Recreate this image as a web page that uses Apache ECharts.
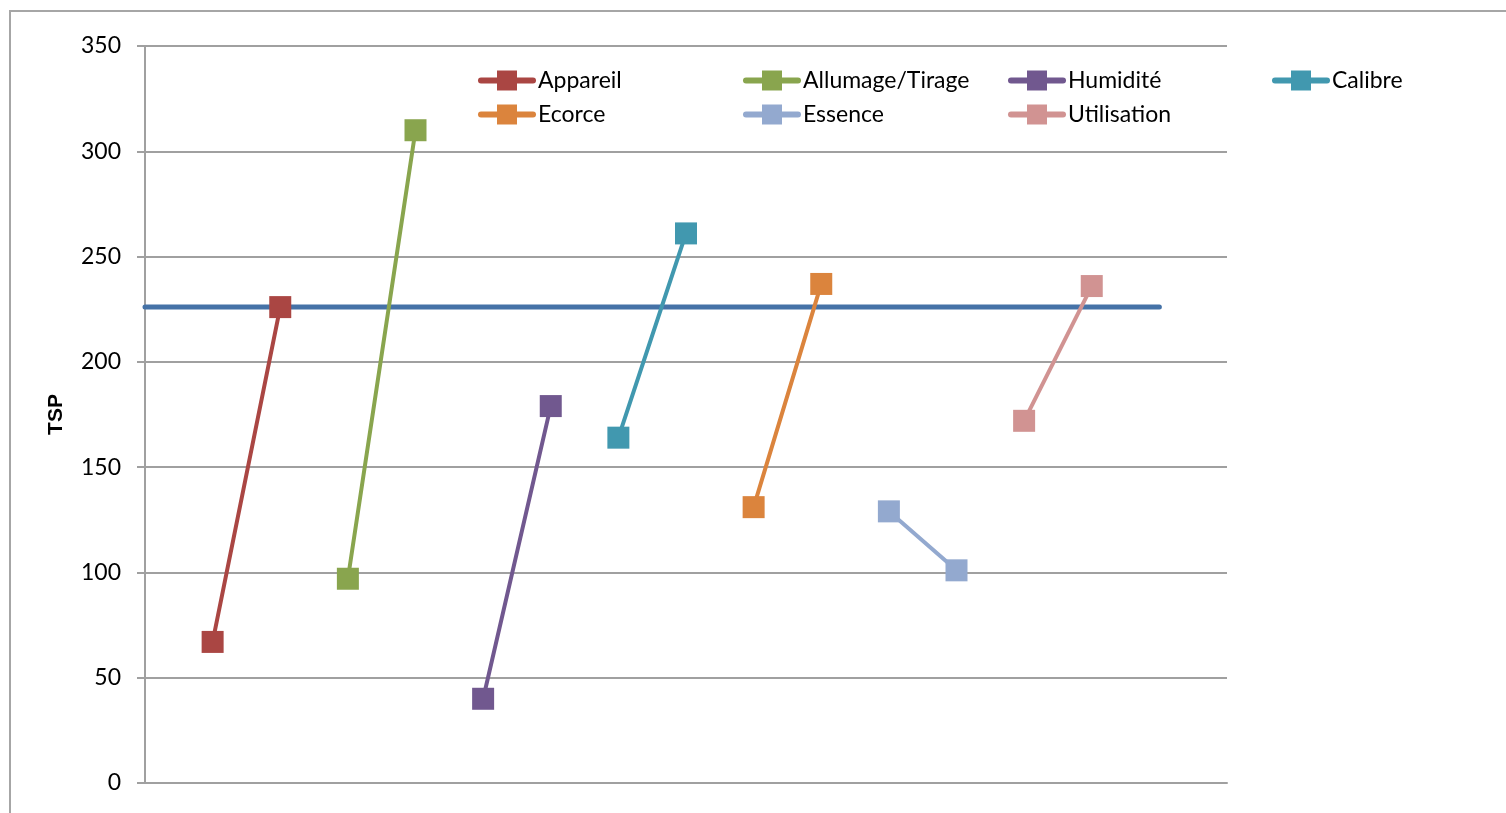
<!DOCTYPE html>
<html>
<head>
<meta charset="utf-8">
<script src="https://cdn.jsdelivr.net/npm/echarts@6/dist/echarts.min.js"></script>
<style>
html,body{margin:0;padding:0;background:#fff;}
#chart{width:1506px;height:813px;}
</style>
</head>
<body>
<div id="chart"></div>
<script>
// Category slots (no labels shown on the x axis)
const categories = ['', '', '', '', '', '', '', '', '', '', '', '', '', '', '', '', ''];
const yTicks = [0, 50, 100, 150, 200, 250, 300, 350];

// Reference TSP level (horizontal line)
const reference = [226, 226, 226, 226, 226, 226, 226, 226, 226, 226, 226, 226, 226, 226, 226, 226, null];

const appareil    = [null, 67, 226, null, null, null, null, null, null, null, null, null, null, null, null, null, null];
const allumage    = [null, null, null, 97, 310, null, null, null, null, null, null, null, null, null, null, null, null];
const humidite    = [null, null, null, null, null, 40, 179, null, null, null, null, null, null, null, null, null, null];
const calibre     = [null, null, null, null, null, null, null, 164, 261, null, null, null, null, null, null, null, null];
const ecorce      = [null, null, null, null, null, null, null, null, null, 131, 237, null, null, null, null, null, null];
const essence     = [null, null, null, null, null, null, null, null, null, null, null, 129, 101, null, null, null, null];
const utilisation = [null, null, null, null, null, null, null, null, null, null, null, null, null, 172, 236, null, null];

const seriesNames = ['Appareil', 'Allumage/Tirage', 'Humidité', 'Calibre', 'Ecorce', 'Essence', 'Utilisation'];
const seriesData = [appareil, allumage, humidite, calibre, ecorce, essence, utilisation];
const seriesColors = ['#AA4643', '#89A54E', '#71588F', '#4198AF', '#DB843D', '#93A9CF', '#D19392'];

const FONT = 'Lato, "Open Sans", sans-serif';
const chart = echarts.init(document.getElementById('chart'));

const legendBase = {
  orient: 'vertical',
  top: 68,
  itemWidth: 52,
  itemHeight: 25,
  itemGap: 9,
  padding: 0,
  lineStyle: { width: 6, cap: 'round' },
  textStyle: { fontFamily: FONT, fontSize: 23, color: '#000', lineHeight: 25, padding: [0, 0, 0, 0] },
  selectedMode: false
};

const series = [{
  name: 'Référence',
  type: 'line',
  data: reference,
  showSymbol: false,
  lineStyle: { color: '#4572A7', width: 5, cap: 'round' },
  itemStyle: { color: '#4572A7' },
  z: 1
}];
seriesNames.forEach((n, i) => {
  series.push({
    name: n,
    type: 'line',
    data: seriesData[i],
    symbol: 'rect',
    symbolSize: 22,
    showAllSymbol: true,
    connectNulls: false,
    lineStyle: { color: seriesColors[i], width: 4, cap: 'round' },
    itemStyle: { color: seriesColors[i] },
    z: 2 + i
  });
});

chart.setOption({
  animation: false,
  backgroundColor: '#fff',
  graphic: [{
    type: 'rect',
    shape: { x: 10, y: 11, width: 1520, height: 830 },
    style: { fill: 'none', stroke: '#A6A6A6', lineWidth: 2 },
    silent: true,
    z: -1
  }],
  grid: { left: 145, right: 279, top: 46, bottom: 30, containLabel: false },
  legend: [
    Object.assign({}, legendBase, { left: 478, data: ['Appareil', 'Ecorce'] }),
    Object.assign({}, legendBase, { left: 743, data: ['Allumage/Tirage', 'Essence'] }),
    Object.assign({}, legendBase, { left: 1008, data: ['Humidité', 'Utilisation'] }),
    Object.assign({}, legendBase, { left: 1272, data: ['Calibre'] })
  ],
  xAxis: {
    type: 'category',
    data: categories,
    boundaryGap: false,
    axisLine: { show: true, lineStyle: { color: '#A0A0A0', width: 2 } },
    axisTick: { show: false },
    axisLabel: { show: false },
    splitLine: { show: false }
  },
  yAxis: {
    type: 'value',
    min: yTicks[0],
    max: yTicks[yTicks.length - 1],
    interval: 50,
    name: 'TSP',
    nameLocation: 'middle',
    nameGap: 78,
    nameTextStyle: { fontFamily: '"Liberation Sans", Arial, sans-serif', fontWeight: 'bold', fontSize: 21, color: '#000' },
    axisLine: { show: true, lineStyle: { color: '#A0A0A0', width: 2 } },
    axisTick: { show: true, length: 8, inside: false, lineStyle: { color: '#A0A0A0', width: 2 } },
    axisLabel: { margin: 24, fontFamily: FONT, fontSize: 23, color: '#000' },
    splitLine: { show: true, lineStyle: { color: '#A0A0A0', width: 2 } }
  },
  series: series
});
</script>
</body>
</html>
